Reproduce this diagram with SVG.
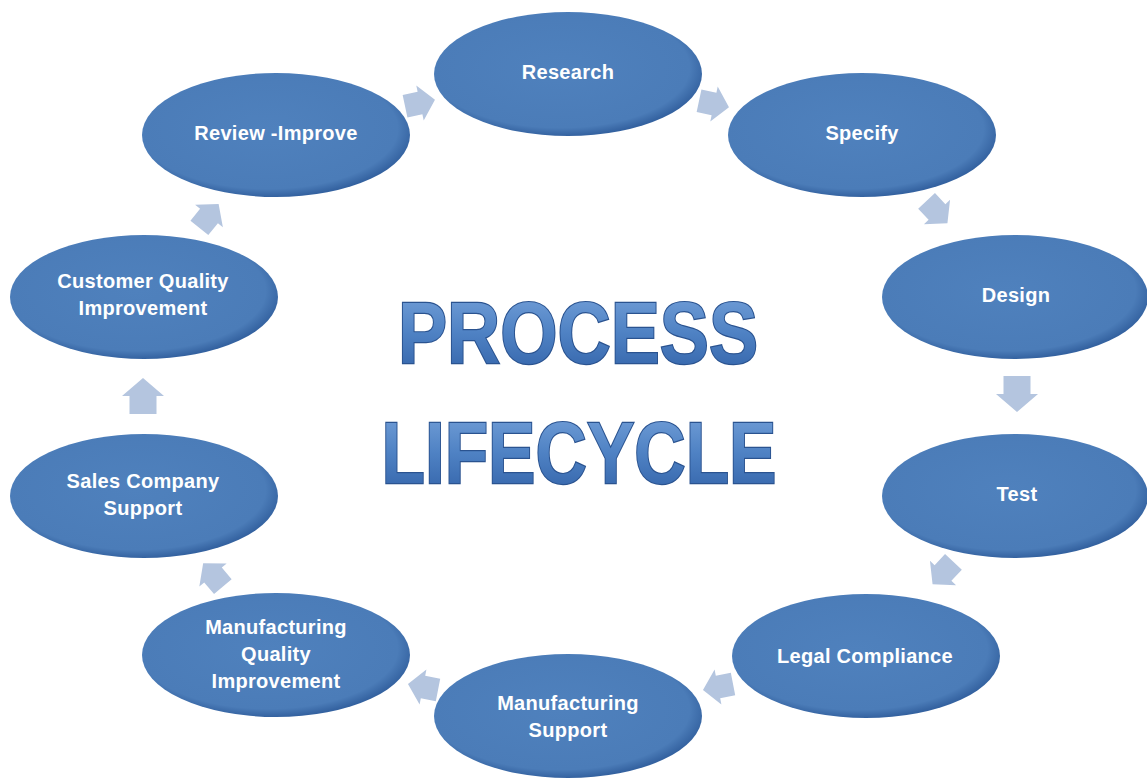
<svg xmlns="http://www.w3.org/2000/svg" width="1147" height="778" viewBox="0 0 1147 778">
  <defs>
    <radialGradient id="eg" cx="0.47" cy="0.45" r="0.55">
      <stop offset="0" stop-color="#4f81bd"/>
      <stop offset="0.88" stop-color="#4b7cb8"/>
      <stop offset="1" stop-color="#3462a0"/>
    </radialGradient>
    <linearGradient id="tg" x1="0" y1="0" x2="0" y2="1">
      <stop offset="0" stop-color="#7aa5dc"/>
      <stop offset="0.5" stop-color="#4f82c4"/>
      <stop offset="1" stop-color="#2f5fa5"/>
    </linearGradient>
    <path id="arr" d="M-18,-13.5 L0,-13.5 L0,-21 L18,0 L0,21 L0,13.5 L-18,13.5 Z"/>
    <style>
      .node ellipse { fill: url(#eg); }
      .lbl { font-family: "Liberation Sans", Arial, sans-serif; font-weight: bold; font-size: 20px; fill: #ffffff; text-anchor: middle; letter-spacing: 0.3px; }
      .title { font-family: "Liberation Sans", Arial, sans-serif; font-weight: bold; font-size: 88px; fill: url(#tg); stroke: #2a5390; stroke-width: 2.4; paint-order: stroke; text-anchor: middle; }
      .conn use { fill: #b4c5df; }
    </style>
  </defs>
  <rect width="1147" height="778" fill="#ffffff"/>

  <g id="connectors" class="conn">
    <use href="#arr" transform="translate(420,103) rotate(-12) scale(0.85)"/>
    <use href="#arr" transform="translate(714,104) rotate(12) scale(0.85)"/>
    <use href="#arr" transform="translate(937,212) rotate(47) scale(0.85)"/>
    <use href="#arr" transform="translate(1017,394) rotate(90)"/>
    <use href="#arr" transform="translate(943,573) rotate(133) scale(0.85)"/>
    <use href="#arr" transform="translate(718,687) rotate(169) scale(0.85)"/>
    <use href="#arr" transform="translate(423,687) rotate(191) scale(0.85)"/>
    <use href="#arr" transform="translate(213,575) rotate(230) scale(0.85)"/>
    <use href="#arr" transform="translate(143,396) rotate(270)"/>
    <use href="#arr" transform="translate(209,216) rotate(-51) scale(0.85)"/>
  </g>

  <g id="research" class="node">
    <ellipse cx="568" cy="74" rx="134" ry="62"/>
    <text class="lbl" x="568" y="79">Research</text>
  </g>
  <g id="specify" class="node">
    <ellipse cx="862" cy="135" rx="134" ry="62"/>
    <text class="lbl" x="862" y="140">Specify</text>
  </g>
  <g id="design" class="node">
    <ellipse cx="1015" cy="297" rx="133" ry="62"/>
    <text class="lbl" x="1016" y="302">Design</text>
  </g>
  <g id="test" class="node">
    <ellipse cx="1015" cy="496" rx="133" ry="62"/>
    <text class="lbl" x="1017" y="501">Test</text>
  </g>
  <g id="legal-compliance" class="node">
    <ellipse cx="866" cy="656" rx="134" ry="62"/>
    <text class="lbl" x="865" y="663">Legal Compliance</text>
  </g>
  <g id="manufacturing-support" class="node">
    <ellipse cx="568" cy="716" rx="134" ry="62"/>
    <text class="lbl" x="568" y="710">Manufacturing</text>
    <text class="lbl" x="568" y="737">Support</text>
  </g>
  <g id="manufacturing-quality" class="node">
    <ellipse cx="276" cy="655" rx="134" ry="62"/>
    <text class="lbl" x="276" y="634">Manufacturing</text>
    <text class="lbl" x="276" y="661">Quality</text>
    <text class="lbl" x="276" y="688">Improvement</text>
  </g>
  <g id="sales-company-support" class="node">
    <ellipse cx="144" cy="496" rx="134" ry="62"/>
    <text class="lbl" x="143" y="488">Sales Company</text>
    <text class="lbl" x="143" y="515">Support</text>
  </g>
  <g id="customer-quality" class="node">
    <ellipse cx="144" cy="297" rx="134" ry="62"/>
    <text class="lbl" x="143" y="288">Customer Quality</text>
    <text class="lbl" x="143" y="315">Improvement</text>
  </g>
  <g id="review-improve" class="node">
    <ellipse cx="276" cy="135" rx="134" ry="62"/>
    <text class="lbl" x="276" y="140">Review -Improve</text>
  </g>

  <g id="title">
    <text class="title" x="578" y="363" textLength="360" lengthAdjust="spacingAndGlyphs">PROCESS</text>
    <text class="title" x="579" y="483" textLength="395" lengthAdjust="spacingAndGlyphs">LIFECYCLE</text>
  </g>
</svg>
